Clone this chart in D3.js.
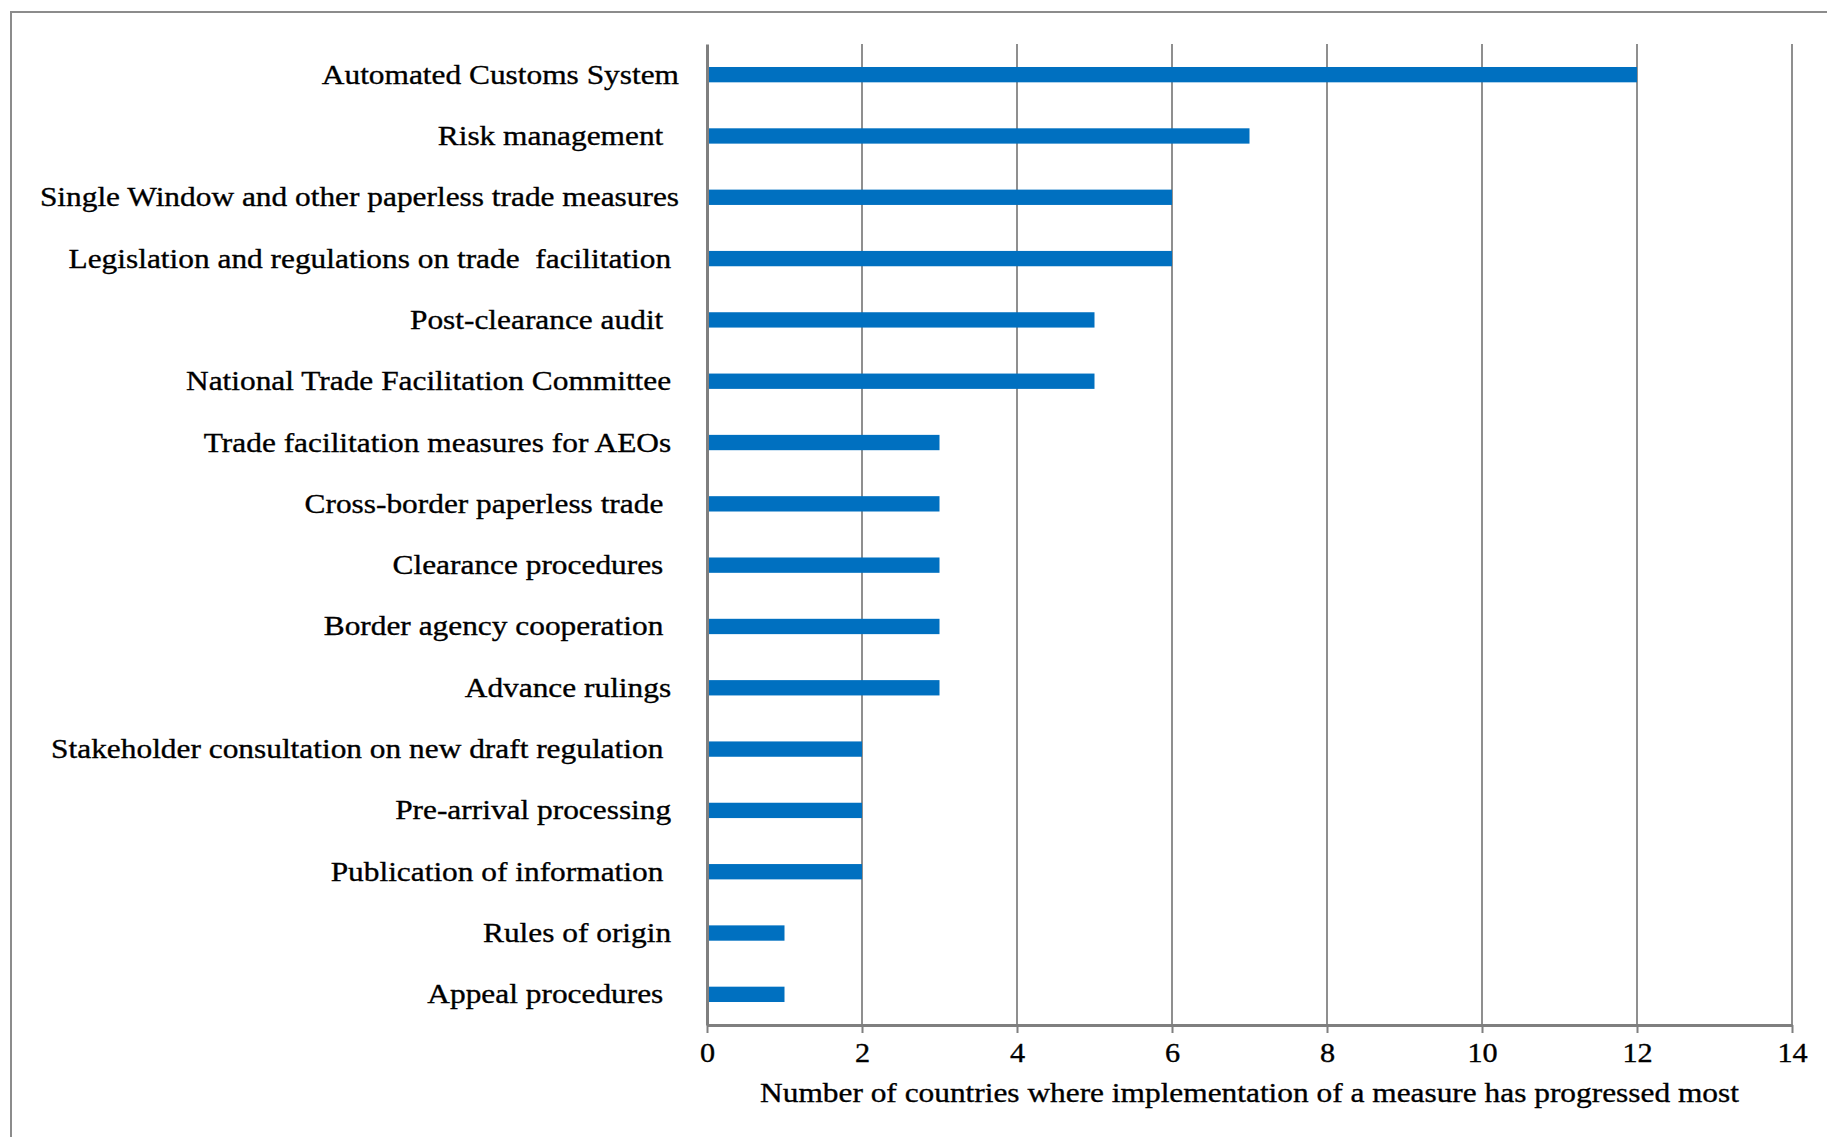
<!DOCTYPE html>
<html>
<head>
<meta charset="utf-8">
<script src="https://cdn.jsdelivr.net/npm/d3@7"></script>
<style>
  html, body { margin: 0; padding: 0; background: #fff; }
  text { white-space: pre; }
</style>
</head>
<body>
<svg id="chart" width="1827" height="1137"></svg>
<script>
const categories = [
  "Automated Customs System",
  "Risk management  ",
  "Single Window and other paperless trade measures",
  "Legislation and regulations on trade  facilitation ",
  "Post-clearance audit  ",
  "National Trade Facilitation Committee ",
  "Trade facilitation measures for AEOs ",
  "Cross-border paperless trade  ",
  "Clearance procedures  ",
  "Border agency cooperation  ",
  "Advance rulings ",
  "Stakeholder consultation on new draft regulation  ",
  "Pre-arrival processing ",
  "Publication of information  ",
  "Rules of origin ",
  "Appeal procedures  "
];
const values = [12, 7, 6, 6, 5, 5, 3, 3, 3, 3, 3, 2, 2, 2, 1, 1];
const xTicks = [0, 2, 4, 6, 8, 10, 12, 14];
const xTitle = "Number of countries where implementation of a measure has progressed most";

const svg = d3.select("#chart");
const W = 1827, H = 1137;
const m = { left: 707, right: W - 1792, top: 44, bottom: H - 1025 };
const stretch = 1.12;
const fontFam = "'Liberation Serif', 'Times New Roman', serif";

// frame
svg.append("path")
  .attr("d", `M11,${H + 5} L11,12 L${W + 5},12`)
  .attr("fill", "none").attr("stroke", "#8c8c8c").attr("stroke-width", 2);

const x = d3.scaleLinear().domain([0, 14]).range([m.left, W - m.right]);
const y = d3.scaleBand().domain(categories).range([m.top, H - m.bottom]).paddingInner(0.75).paddingOuter(0.375);

// gridlines
svg.append("g").selectAll("line").data(xTicks.filter(d => d > 0)).join("line")
  .attr("x1", d => x(d)).attr("x2", d => x(d))
  .attr("y1", m.top).attr("y2", H - m.bottom)
  .attr("stroke", "#8f8f8f").attr("stroke-width", 2);

// bars
svg.append("g").selectAll("rect").data(values).join("rect")
  .attr("x", x(0))
  .attr("y", (d, i) => y(categories[i]))
  .attr("width", d => x(d) - x(0))
  .attr("height", y.bandwidth())
  .attr("fill", "#0070c0");

// x axis
const xAxis = svg.append("g").attr("transform", `translate(0,${H - m.bottom})`)
  .call(d3.axisBottom(x).tickValues(xTicks).tickSize(8).tickSizeOuter(0).tickPadding(10));
xAxis.select(".domain").attr("stroke", "#7f7f7f").attr("stroke-width", 3);
xAxis.selectAll(".tick line").attr("stroke", "#7f7f7f").attr("stroke-width", 2);
xAxis.selectAll(".tick text")
  .attr("font-family", fontFam).attr("font-size", 27).attr("fill", "#000");

// y axis
const yAxis = svg.append("g").attr("transform", `translate(${m.left},0)`)
  .call(d3.axisLeft(y).tickSize(0).tickPadding(28));
yAxis.select(".domain").attr("stroke", "#7f7f7f").attr("stroke-width", 3);
yAxis.selectAll(".tick text")
  .attr("font-family", fontFam).attr("font-size", 28).attr("fill", "#000")
  .attr("dy", "0.32em");

// title
svg.append("text")
  .attr("x", (x(0) + x(14)) / 2).attr("y", 1102)
  .attr("text-anchor", "middle")
  .attr("font-family", fontFam).attr("font-size", 28).attr("fill", "#000")
  .text(xTitle);

// horizontal stretch and slight weight to match reference letterforms
svg.selectAll("text").each(function () {
  const len = this.getComputedTextLength();
  if (len > 0) d3.select(this).attr("textLength", len * stretch).attr("lengthAdjust", "spacingAndGlyphs");
}).attr("stroke", "#000").attr("stroke-width", 0.35);
</script>
</body>
</html>
